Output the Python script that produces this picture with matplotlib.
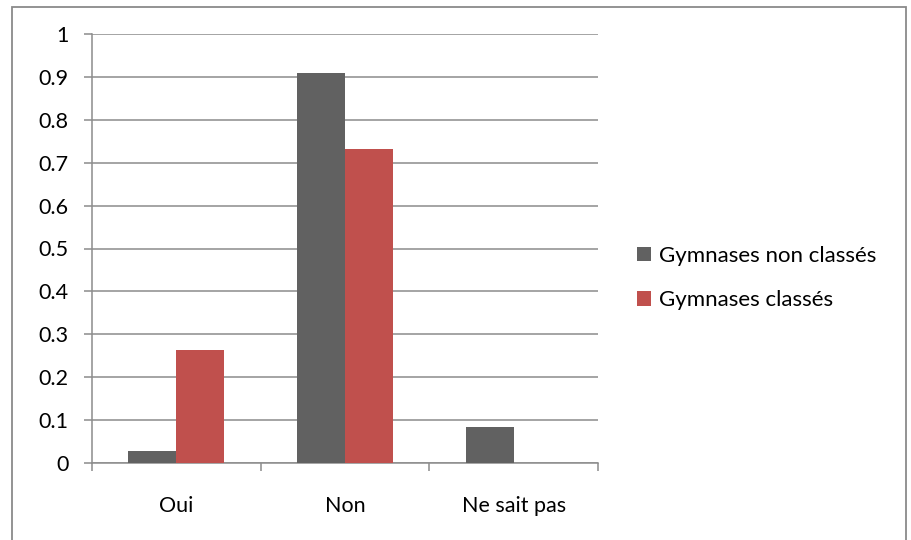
import matplotlib
matplotlib.use("Agg")
import matplotlib.pyplot as plt
import numpy as np
from matplotlib.patches import Rectangle

plt.rcParams['font.family'] = ['Lato', 'DejaVu Sans']

categories = ["Oui", "Non", "Ne sait pas"]
series_names = ["Gymnases non classés", "Gymnases classés"]
non_classes = [0.027, 0.91, 0.084]
classes = [0.263, 0.733, 0.0]
y_ticks = [0, 0.1, 0.2, 0.3, 0.4, 0.5, 0.6, 0.7, 0.8, 0.9, 1]
y_tick_labels = ["0", "0.1", "0.2", "0.3", "0.4", "0.5", "0.6", "0.7", "0.8", "0.9", "1"]

gray = "#616161"
red = "#C0504D"
grid_col = "#8c8c8c"
fs = 15.5

fig = plt.figure(figsize=(9.11, 5.4), dpi=100)
fig.patch.set_facecolor("white")

# outer chart border
fig.patches.append(Rectangle((12 / 911, -0.02), (906 - 12) / 911, 1 - 7 / 540 + 0.02,
                             transform=fig.transFigure, fill=False,
                             edgecolor="#8a8a8a", linewidth=1.3))

ax = fig.add_axes([92 / 911, 1 - 463 / 540, (598 - 92) / 911, (463 - 34) / 540])

x = np.arange(len(categories)) + 0.5
w = 0.285
b1 = ax.bar(x - w / 2, non_classes, w, color=gray, label=series_names[0], zorder=3)
b2 = ax.bar(x + w / 2, classes, w, color=red, label=series_names[1], zorder=3)

ax.set_xlim(0, 3)
ax.set_ylim(0, 1)
ax.set_yticks(y_ticks)
ax.set_yticklabels(y_tick_labels)
ax.yaxis.grid(True, color=grid_col, linewidth=1.1, zorder=0)
ax.set_axisbelow(True)

ax.set_xticks([0, 1, 2, 3])
ax.set_xticklabels([])
ax.set_xticks(x, minor=True)
ax.set_xticklabels(categories, minor=True)
ax.tick_params(axis='x', which='minor', length=0, pad=24, labelsize=fs)
ax.tick_params(axis='x', which='major', length=6, width=1.1, color=grid_col, direction='out')
ax.tick_params(axis='y', length=6, width=1.1, color=grid_col, direction='out', pad=11, labelsize=fs)

for s in ["top", "right"]:
    ax.spines[s].set_visible(False)
for s in ["left", "bottom"]:
    ax.spines[s].set_color(grid_col)
    ax.spines[s].set_linewidth(1.1)

leg = fig.legend(handles=[b1, b2], labels=series_names, loc="center left",
                 bbox_to_anchor=(637 / 911, 1 - 278 / 540), frameon=False,
                 fontsize=fs + 0.5, handlelength=0.63, handleheight=0.63,
                 handletextpad=0.37, labelspacing=1.1, borderpad=0, borderaxespad=0)

fig.savefig("out.png", dpi=100, facecolor="white")
